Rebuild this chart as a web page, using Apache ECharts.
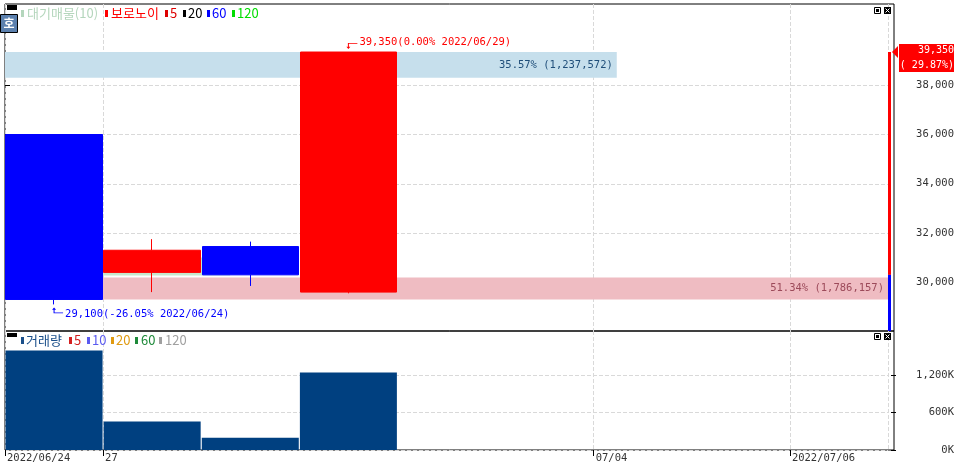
<!DOCTYPE html>
<html><head><meta charset="utf-8">
<script src="https://cdn.jsdelivr.net/npm/echarts@6/dist/echarts.min.js"></script>
<style>html,body{margin:0;padding:0;background:#fff}#c{width:957px;height:468px}</style>
</head><body><div id="c"></div>
<script>
// ---------- data ----------
const dates = ['2022/06/24','2022/06/27','2022/06/28','2022/06/29','2022/06/30','2022/07/01','2022/07/04','2022/07/05','2022/07/06'];
// [open, close, low, high]
const ohlc = [
  [36000, 29300, 29100, 36000],
  [30400, 31300, 29600, 31750],
  [31450, 30300, 29850, 31650],
  [29600, 39350, 29550, 39350]
];
const volumes = [1590000, 455000, 196157, 1237572];
const boundaryLabels = ['2022/06/24','27','','','','','07/04','','2022/07/06',''];
const priceTicks = [30000, 32000, 34000, 36000, 38000];
const volumeTicks = [0, 600000, 1200000];
// 대기매물 bands
const bandPct = [51.34, 13.09, 35.57];
const bandVolume = [1786157, 455000, 1237572];
const bandLow = [29300, 30270, 38300];
const bandHigh = [30190, 31000, 39350];
const bandShowLabel = [true, false, true];
const mainLegendNames = ['대기매물(10)', '보로노이', '5', '20', '60', '120'];
const volLegendNames = ['거래량', '5', '10', '20', '60', '120'];

// ---------- styles ----------
const bandColors = ['#efbcc2', '#c6e6cc', '#c6dfec'];
const bandTextColors = ['#9c4a5a', '#4a7a55', '#1f4e79'];
const mainLegendColors = ['#b4d6bc', '#ff0000', '#dd0000', '#000000', '#0000ff', '#00dd00'];
const volLegendColors = ['#1a4f8a', '#d42020', '#5a5af0', '#e09a10', '#1e8a3a', '#a0a0a0'];
const MONO = 'DejaVu Sans Mono';
const KR = 'Noto Sans CJK KR';
const FS = 10.5;
const GRID = '#d9d9d9';

const fmt = v => v.toLocaleString('en-US');
const lastIdx = ohlc.length - 1;
const current = ohlc[lastIdx][1];
const prevClose = ohlc[lastIdx - 1][1];
const highs = ohlc.map(d => d[3]);
const lows = ohlc.map(d => d[2]);
const hiIdx = highs.indexOf(Math.max(...highs));
const loIdx = lows.indexOf(Math.min(...lows));
const pctOf = v => ((v / current - 1) * 100).toFixed(2);
const chgPct = ((current / prevClose - 1) * 100).toFixed(2);
const showBoundary = i => boundaryLabels[i] !== '';

// ---------- graphics (legends / buttons) ----------
const graphic = [];
function legendRow(names, colors, markX, textX, y, markTop) {
  names.forEach((n, i) => {
    graphic.push({type:'rect', z:100, shape:{x:markX[i], y:markTop, width:3, height:7}, style:{fill:colors[i]}});
    graphic.push({type:'text', z:100, x:textX[i], y:y, style:{text:n, fill:colors[i], font:'13px "' + KR + '"', verticalAlign:'middle'}});
  });
}
legendRow(mainLegendNames, mainLegendColors, [21,105,165,183,207,232], [27,111,170,188,212,237], 13, 10);
legendRow(volLegendNames, volLegendColors, [21,69,87,111,135,159], [26,74,92,116,141,165], 340, 337);
function icons(y) {
  graphic.push({type:'rect', z:100, shape:{x:874.5, y:y+0.5, width:6, height:6}, style:{fill:'#fff', stroke:'#000', lineWidth:1}});
  graphic.push({type:'rect', z:100, shape:{x:876, y:y+2, width:3, height:3}, style:{fill:'#000'}});
  graphic.push({type:'rect', z:100, shape:{x:884, y:y, width:7, height:7}, style:{fill:'#000'}});
  graphic.push({type:'line', z:101, shape:{x1:885.5, y1:y+1.5, x2:889.5, y2:y+5.5}, style:{stroke:'#fff', lineWidth:1}});
  graphic.push({type:'line', z:101, shape:{x1:889.5, y1:y+1.5, x2:885.5, y2:y+5.5}, style:{stroke:'#fff', lineWidth:1}});
}
icons(7);
icons(333);
graphic.push({type:'rect', z:100, shape:{x:7, y:5, width:10, height:5}, style:{fill:'#000'}});
graphic.push({type:'rect', z:100, shape:{x:7, y:333, width:10, height:4}, style:{fill:'#000'}});
graphic.push({type:'rect', z:100, shape:{x:0.5, y:14.5, width:17, height:18}, style:{fill:'#5b80ae', stroke:'#000', lineWidth:1}});
graphic.push({type:'text', z:101, x:9, y:23.5, style:{text:'호', fill:'#fff', font:'bold 12px "' + KR + '"', align:'center', verticalAlign:'middle'}});

// ---------- chart ----------
const chart = echarts.init(document.getElementById('c'));
const option = {
  animation: false,
  backgroundColor: '#fff',
  graphic: graphic,
  grid: [
    {left:5, right:66, top:4, height:327},
    {left:5, right:66, top:331, height:119},
    {left:5, right:63, top:4, height:327, show:true, borderColor:'#000', borderWidth:1, backgroundColor:'rgba(0,0,0,0)'},
    {left:5, right:63, top:331, height:119, show:true, borderColor:'#000', borderWidth:1, backgroundColor:'rgba(0,0,0,0)'}
  ],
  xAxis: [
    {type:'category', gridIndex:0, data:dates, boundaryGap:true,
     axisLine:{show:false}, axisTick:{show:false}, axisLabel:{show:false},
     splitLine:{show:true, interval:(i)=>showBoundary(i), lineStyle:{type:[4,2], color:GRID}}},
    {type:'category', gridIndex:1, data:dates, boundaryGap:true,
     axisLine:{show:false}, axisTick:{show:false}, axisLabel:{show:false},
     splitLine:{show:true, interval:(i)=>showBoundary(i), lineStyle:{type:[4,2], color:GRID}}},
    {type:'value', gridIndex:0, min:0, max:Math.max(...bandPct), show:false},
    {type:'category', gridIndex:1, data:boundaryLabels, boundaryGap:false, position:'bottom',
     axisLine:{show:false},
     axisTick:{show:true, interval:(i)=>showBoundary(i), length:6, lineStyle:{color:'#000'}},
     axisLabel:{interval:(i)=>showBoundary(i), align:'left', margin:3, padding:[0,0,0,2], color:'#333', fontFamily:MONO, fontSize:FS},
     splitLine:{show:false}},
    {type:'value', gridIndex:2, min:0, max:1, show:false},
    {type:'value', gridIndex:3, min:0, max:1, show:false}
  ],
  yAxis: [
    {type:'value', gridIndex:0, position:'right', offset:3, min:28020, max:41300,
     axisLine:{show:false},
     axisTick:{show:true, length:5, lineStyle:{color:'#000'}, customValues:priceTicks},
     axisLabel:{customValues:priceTicks, formatter:(v)=>fmt(v), align:'right', margin:63, color:'#333', fontFamily:MONO, fontSize:FS},
     splitLine:{show:true, lineStyle:{type:[4,2], color:GRID}}},
    {type:'value', gridIndex:1, position:'right', offset:3, min:0, max:1900000,
     axisLine:{show:false},
     axisTick:{show:true, length:5, lineStyle:{color:'#000'}, customValues:volumeTicks},
     axisLabel:{customValues:volumeTicks, formatter:(v)=>fmt(v/1000)+'K', align:'right', margin:63, color:'#333', fontFamily:MONO, fontSize:FS},
     splitLine:{show:true, lineStyle:{type:[4,2], color:GRID}}},
    {type:'value', gridIndex:2, min:0, max:1, show:false},
    {type:'value', gridIndex:3, min:0, max:1, show:false}
  ],
  series: [
    {
      name:'대기매물', type:'custom', xAxisIndex:2, yAxisIndex:0, z:1, clip:false,
      encode:{x:0, y:[1,2]},
      data: bandPct.map((p, i) => [p, bandLow[i], bandHigh[i], i]),
      renderItem: function (params, api) {
        const i = api.value(3);
        const p0 = api.coord([0, api.value(2)]);
        const p1 = api.coord([api.value(0), api.value(1)]);
        const children = [{type:'rect', shape:{x:p0[0], y:p0[1], width:p1[0]-p0[0], height:p1[1]-p0[1]}, style:{fill:bandColors[i]}}];
        if (bandShowLabel[i]) {
          children.push({type:'text', style:{
            text: bandPct[i].toFixed(2) + '% (' + fmt(bandVolume[i]) + ')',
            x: p1[0] - 4, y: (p0[1] + p1[1]) / 2, align:'right', verticalAlign:'middle',
            fill: bandTextColors[i], font: FS + 'px "' + MONO + '"'}});
        }
        return {type:'group', children};
      }
    },
    {
      name:'price', type:'candlestick', xAxisIndex:0, yAxisIndex:0, z:2,
      data: ohlc, barWidth: 97,
      itemStyle:{color:'#ff0000', color0:'#0000ff', borderColor:'#ff0000', borderColor0:'#0000ff', borderWidth:1},
      markPoint:{
        symbolKeepAspect:true,
        data:[
          {coord:[dates[hiIdx], highs[hiIdx]],
           symbol:'path://M1.5,0 L11,0 L11,1 L2.5,1 L2.5,5 L4,5 L2,8 L0,5 L1.5,5 Z',
           symbolSize:[11,8], symbolOffset:[3.5,-6], itemStyle:{color:'#ff0000'},
           label:{show:true, position:'right', distance:2, offset:[0,-4], color:'#ff0000', fontFamily:MONO, fontSize:FS,
                  formatter: fmt(highs[hiIdx]) + '(' + pctOf(highs[hiIdx]) + '% ' + dates[hiIdx] + ')'}},
          {coord:[dates[loIdx], lows[loIdx]],
           symbol:'path://M2,0 L4,3 L2.5,3 L2.5,7 L11,7 L11,8 L1.5,8 L1.5,3 L0,3 Z',
           symbolSize:[11,8], symbolOffset:[3.5,6], itemStyle:{color:'#0000ff'},
           label:{show:true, position:'right', distance:2, offset:[0,3.5], color:'#0000ff', fontFamily:MONO, fontSize:FS,
                  formatter: fmt(lows[loIdx]) + '(' + pctOf(lows[loIdx]) + '% ' + dates[loIdx] + ')'}}
        ]
      }
    },
    {
      name:'current', type:'custom', xAxisIndex:0, yAxisIndex:0, z:5, clip:false,
      encode:{x:0, y:[1,2]},
      data:[[lastIdx, prevClose, current]],
      renderItem: function (params, api) {
        const cs = params.coordSys;
        const right = cs.x + cs.width;
        const bottom = cs.y + cs.height;
        const yPrev = api.coord([0, api.value(1)])[1];
        const yCur = api.coord([0, api.value(2)])[1];
        const sign = chgPct >= 0 ? ' ' : '';
        return {type:'group', children:[
          {type:'rect', shape:{x:right, y:yCur, width:3, height:yPrev-yCur}, style:{fill:'#ff0000'}},
          {type:'rect', shape:{x:right, y:yPrev, width:3, height:bottom-yPrev}, style:{fill:'#0000ff'}},
          {type:'polygon', shape:{points:[[right+4, yCur],[right+10, yCur-6],[right+10, yCur+6]]}, style:{fill:'#ff0000'}},
          {type:'rect', shape:{x:right+11, y:yCur-8, width:55, height:28}, style:{fill:'#ff0000'}},
          {type:'text', style:{text:fmt(api.value(2)), x:right+66, y:yCur-1.5, align:'right', verticalAlign:'middle', fill:'#fff', font:'10px "' + MONO + '"'}},
          {type:'text', style:{text:'(' + sign + chgPct + '%)', x:right+66, y:yCur+13, align:'right', verticalAlign:'middle', fill:'#fff', font:'10px "' + MONO + '"'}}
        ]};
      }
    },
    {
      name:'거래량', type:'bar', xAxisIndex:1, yAxisIndex:1, data: volumes, barWidth: 97,
      itemStyle:{color:'#004080'}
    }
  ]
};
chart.setOption(option);
</script>
</body></html>
